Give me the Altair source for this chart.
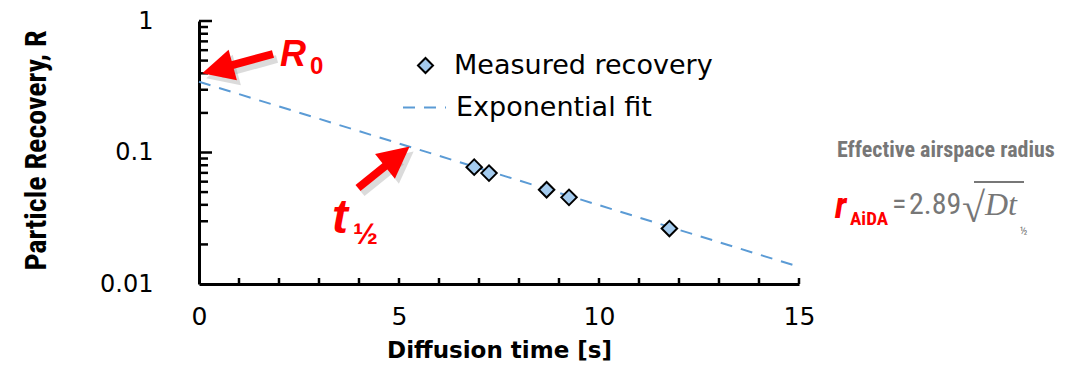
import altair as alt
import pandas as pd

# ---------------- data ----------------
times = [6.88, 7.25, 8.69, 9.25, 11.76]
recovery = [0.0774, 0.0697, 0.0521, 0.0456, 0.0264]
fit_times = [0, 15]
fit_recovery = [0.345, 0.0135]

x_tick_labels = [0, 5, 10, 15]
x_minor_ticks = [1, 2, 3, 4, 5, 6, 7, 8, 9, 10, 11, 12, 13, 14, 15]
y_tick_labels = [0.01, 0.1, 1]
y_major_ticks = [0.1, 1]
y_minor_ticks = [0.02, 0.03, 0.04, 0.05, 0.06, 0.07, 0.08, 0.09,
                 0.2, 0.3, 0.4, 0.5, 0.6, 0.7, 0.8, 0.9]

meas = pd.DataFrame({"t": times, "R": recovery, "series": ["Measured recovery"] * len(times)})
fit = pd.DataFrame({"t": fit_times, "R": fit_recovery, "fit": ["Exponential fit"] * len(fit_times)})

FONT = "DejaVu Sans"
COND = "Liberation Sans Narrow, Roboto Condensed, DejaVu Sans Condensed, Roboto, sans-serif"
SERIF = "Liberation Serif, DejaVu Serif, serif"
SANS = "Liberation Sans, Arial, sans-serif"
RED = "#ff0000"
GRAY = "#777777"
BLUE = "#5b9bd5"

W, H = 600, 263
xs = alt.Scale(domain=[0, 15], nice=False, zero=False)
ys = alt.Scale(type="log", domain=[0.01, 1], nice=False)

x_axis = alt.Axis(values=x_tick_labels, title="Diffusion time [s]", grid=False, ticks=False,
                  tickSize=0, domainColor="black", domainWidth=3, labelFont=FONT,
                  labelFontSize=25, labelColor="black", labelPadding=20, labelFlush=False,
                  labelOverlap=False, titleFont=FONT, titleFontSize=23, titleFontWeight="bold",
                  titleColor="black", titleX=300, titleY=66, titleBaseline="middle")
y_axis = alt.Axis(values=y_tick_labels, format="~g", title="Particle Recovery, R", grid=False,
                  ticks=False, tickSize=0, domainColor="black", domainWidth=3, labelFont=FONT,
                  labelFontSize=24, labelColor="black", labelPadding=46, labelOverlap=False,
                  titleFont=COND, titleFontSize=30, titleFontWeight="bold", titleColor="black",
                  titleX=-163, titleY=129, titleAlign="center", titleBaseline="middle")

fit_line = alt.Chart(fit).mark_line(color=BLUE, strokeWidth=2).encode(
    x=alt.X("t:Q", scale=xs, axis=x_axis),
    y=alt.Y("R:Q", scale=ys, axis=y_axis),
    strokeDash=alt.StrokeDash("fit:N", scale=alt.Scale(domain=["Exponential fit"], range=[[12, 9]]),
                              legend=alt.Legend(title=None, orient="none", legendX=203, legendY=64,
                                                symbolType="stroke", symbolSize=1849,
                                                symbolStrokeColor=BLUE, symbolStrokeWidth=2,
                                                labelFont=FONT, labelFontSize=27, labelColor="black",
                                                labelOffset=9, labelLimit=0, padding=0)),
)

points = alt.Chart(meas).mark_point(filled=True, shape="diamond", size=240, stroke="black",
                                    strokeWidth=2, opacity=1).encode(
    x=alt.X("t:Q", scale=xs),
    y=alt.Y("R:Q", scale=ys),
    fill=alt.Fill("series:N", scale=alt.Scale(domain=["Measured recovery"], range=["#a4cbee"]),
                  legend=alt.Legend(title=None, orient="none", legendX=213, legendY=31,
                                    symbolType="diamond", symbolSize=225, symbolStrokeColor="black",
                                    symbolStrokeWidth=2, labelFont=FONT, labelFontSize=27,
                                    labelColor="black", labelOffset=15, labelLimit=0, padding=0)),
)

ymin = alt.Chart(pd.DataFrame({"R": y_minor_ticks})).mark_rule(color="black", strokeWidth=2.5).encode(
    y=alt.Y("R:Q", scale=ys), x=alt.value(0), x2=alt.value(9))
ymaj = alt.Chart(pd.DataFrame({"R": y_major_ticks})).mark_rule(color="black", strokeWidth=2.5).encode(
    y=alt.Y("R:Q", scale=ys), x=alt.value(0), x2=alt.value(13))
xmin = alt.Chart(pd.DataFrame({"t": x_minor_ticks})).mark_rule(color="black", strokeWidth=2.5).encode(
    x=alt.X("t:Q", scale=xs), y=alt.value(H), y2=alt.value(H - 6))

one = alt.Data(values=[{"a": 1}])


def txt(s, x, y, size, color, font, weight="normal", style="normal", align="left", opacity=1):
    return alt.Chart(one).mark_text(text=s, fontSize=size, font=font, fontWeight=weight,
                                    fontStyle=style, color=color, align=align, opacity=opacity,
                                    baseline="middle").encode(x=alt.value(x), y=alt.value(y))


def arrow(tail, center, angle, size, width, color=RED, opacity=1):
    shaft = alt.Chart(one).mark_rule(color=color, strokeWidth=width, opacity=opacity).encode(
        x=alt.value(tail[0]), y=alt.value(tail[1]), x2=alt.value(center[0]), y2=alt.value(center[1]))
    head = alt.Chart(one).mark_point(shape="M0,-1L1,1L-1,1Z", size=size, filled=True, color=color,
                                     opacity=opacity, angle=angle, strokeWidth=0).encode(
        x=alt.value(center[0]), y=alt.value(center[1]))
    return [shaft, head]


def arrows(dx=0, dy=0, color=RED, opacity=1):
    g = []
    g += arrow((74 + dx, 33 + dy), (18.5 + dx, 48.1 + dy), 254.8, 1000, 8, color, opacity)
    g += arrow((159 + dx, 167 + dy), (198.3 + dx, 135.4 + dy), 51.2, 1000, 8, color, opacity)
    return g


annotations = []
annotations += arrows(4, 5, "#999999", 0.35)
annotations += arrows()
annotations += [
    txt("R", 81, 34, 36, RED, SANS, "bold", "italic"),
    txt("0", 111, 46, 24, RED, SANS, "bold"),
    txt("t", 141, 198, 48, RED, SANS, "bold", "italic", "center"),
    txt("\u00bd", 154, 214, 30, RED, SANS, "bold"),
    txt("Effective airspace radius", 638, 129, 22, GRAY, COND, "bold"),
    txt("r", 636, 186, 36, RED, COND, "bold", "italic"),
    txt("AiDA", 651, 198, 19, RED, COND, "bold"),
    txt("=", 693, 184, 30, GRAY, COND),
    txt("2.89", 710, 184, 30, GRAY, COND),
    txt("\u221a", 763, 188, 42, GRAY, SERIF),
    txt("Dt", 786, 184, 32, GRAY, SERIF, "normal", "italic"),
    txt("\u00bd", 821, 211, 11, GRAY, COND),
    alt.Chart(one).mark_rule(color=GRAY, strokeWidth=2).encode(
        x=alt.value(775), x2=alt.value(825), y=alt.value(161)),
]

chart = alt.layer(fit_line, points, ymin, ymaj, xmin, *annotations).properties(
    width=W, height=H,
    autosize=alt.AutoSizeParams(type="none"),
    padding={"left": 191, "top": 13, "right": 260, "bottom": 78},
).configure_view(stroke=None)

chart.save("out.html", embed_options={"renderer": "svg", "actions": False})
